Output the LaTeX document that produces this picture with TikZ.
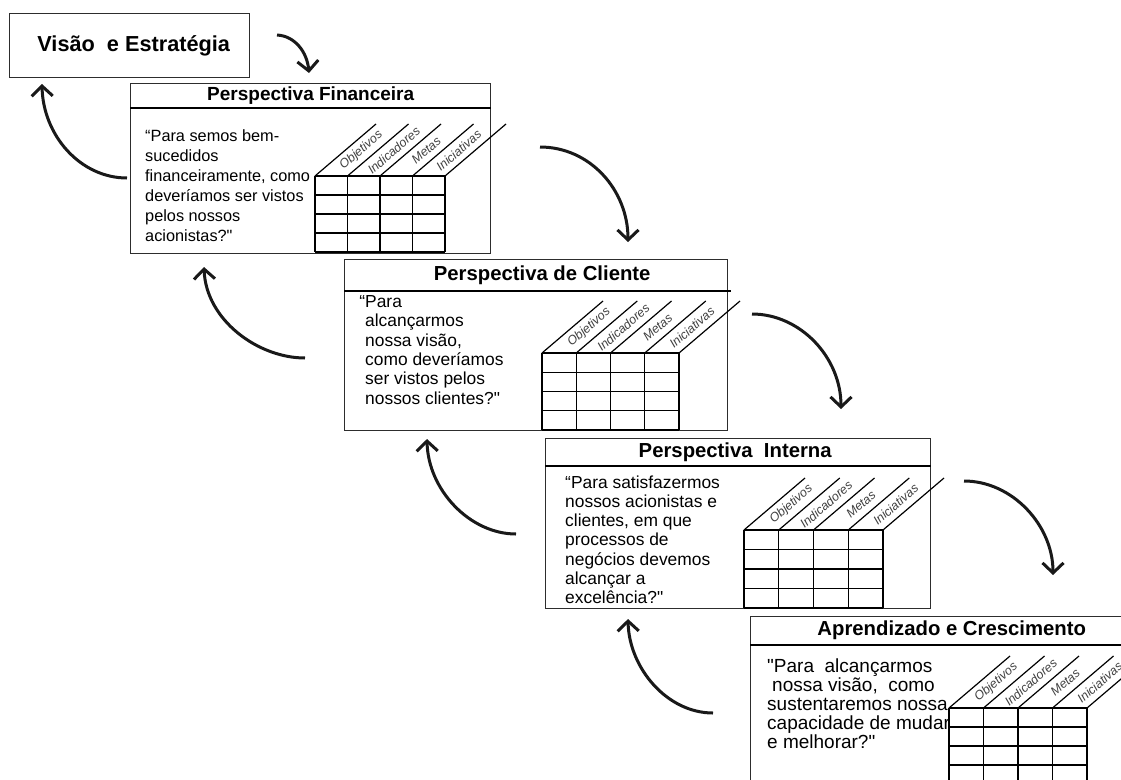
\documentclass[tikz,border=0pt]{standalone}
\usepackage{fontspec}
\setmainfont{Liberation Sans}[Ligatures=TeXOff]
\usetikzlibrary{arrows.meta,positioning}
\definecolor{Contorno}{RGB}{45,45,45}

% grade de objetivos/indicadores/metas/iniciativas
% #1,#2: canto superior esquerdo; #3: largura da coluna; #4: altura da linha
\newcommand{\grade}[4]{%
  \foreach \i in {0,...,4} {
    \draw[gradelinha] (#1+\i*#3,#2) -- (#1+\i*#3,#2+4*#4);
    \draw[gradelinha] (#1+\i*#3,#2) -- ++(61,-52);
  }
  \foreach \j in {0,...,4}
    \draw[gradelinha] (#1,#2+\j*#4) -- (#1+4*#3,#2+\j*#4);
  \foreach \lab [count=\i from 0] in {Objetivos,Indicadores,Metas,Iniciativas}
    \node[rotulo] at (#1+\i*#3+0.5*#3+30,#2-25.6) {\lab};
}

\begin{document}
\begin{tikzpicture}[x=1pt,y=-1pt,
    caixa/.style={rectangle,draw=Contorno,line width=1.4pt,inner sep=0pt,anchor=north west},
    titulo/.style={font=\bfseries\fontsize{#1}{#1}\selectfont,inner sep=0pt},
    divisoria/.style={line width=2.4pt},
    texto/.style 2 args={align=left,anchor=north west,inner sep=0pt,font=\fontsize{#1}{#2}\selectfont},
    gradelinha/.style={line width=1.2pt},
    rotulo/.style={font=\itshape\fontsize{12.5}{12.5}\selectfont,rotate=41,inner sep=0pt,text=black!75},
    seta/.style={line width=3pt,draw=black!90,-{Straight Barb[length=10pt,width=21pt]}}]
    \useasboundingbox (0,0) rectangle (1121,779);
    \clip (0,0) rectangle (1121,779);

    % visao
    \node[caixa,minimum width=240pt,minimum height=64pt] (visao) at (9,13) {};
    \node[font=\bfseries\fontsize{21.7}{24}\selectfont] (visaoT) at ([xshift=4pt]visao.center) {Visão~ e Estratégia};

    % financeira
    \node[caixa,minimum width=360pt,minimum height=170pt] (fin) at (130,83) {};
    \draw[divisoria] ([yshift=-25pt]fin.north west) -- ([yshift=-25pt]fin.north east);
    \node[titulo=19] (finT) at ([yshift=-12.5pt]fin.north) {Perspectiva Financeira};
    \node[texto={16.3}{20}] (finTx) at (145,129) {“Para semos bem-\\sucedidos\\financeiramente, como\\deveríamos ser vistos\\pelos nossos\\acionistas?"};
    \grade{315}{176}{32.5}{19}

    % cliente
    \node[caixa,minimum width=383pt,minimum height=171pt] (cli) at (344,259) {};
    \draw[divisoria] ([yshift=-32pt]cli.north west) -- ([yshift=-32pt,xshift=3pt]cli.north east);
    \node[titulo=20.3] (cliT) at ([yshift=-16pt,xshift=6pt]cli.north) {Perspectiva de Cliente};
    \node[texto={17.4}{19.3}] (cliTx) at (365,295.5) {\llap{“}Para\\alcançarmos\\nossa visão,\\como deveríamos\\ser vistos pelos\\nossos clientes?"};
    \grade{542}{353}{34.25}{19.25}

    % interna
    \node[caixa,minimum width=385pt,minimum height=170pt] (int) at (545,438) {};
    \draw[divisoria] ([yshift=-28pt]int.north west) -- ([yshift=-28pt]int.north east);
    \node[titulo=20.3] (intT) at ([yshift=-14pt,xshift=-3pt]int.north) {Perspectiva~ Interna};
    \node[texto={17.4}{19.2}] (intTx) at (565,475.5) {“Para satisfazermos\\nossos acionistas e\\clientes, em que\\processos de\\negócios devemos\\alcançar a\\excelência?"};
    \grade{744}{530}{34.75}{19.5}

    % aprendizado
    \node[caixa,minimum width=402pt,minimum height=200pt] (apr) at (750,616) {};
    \draw[divisoria] ([yshift=-29pt]apr.north west) -- ([yshift=-29pt]apr.north east);
    \node[titulo=20.3] (aprT) at ([yshift=-14.5pt]apr.north) {Aprendizado e Crescimento};
    \node[texto={19}{19}] (aprTx) at (767,658.3) {"Para~ alcançarmos\\\hspace*{5pt}nossa visão,~ como\\sustentaremos nossa\\capacidade de mudar\\e melhorar?"};
    \grade{949}{708}{34.5}{19}

    % setas
    \coordinate (a1) at (277,35);  \coordinate (a2) at (309,73);
    \coordinate (b1) at (127,178); \coordinate (b2) at (42,84);
    \coordinate (c1) at (540,147); \coordinate (c2) at (628,242);
    \coordinate (d1) at (305,358); \coordinate (d2) at (204,267);
    \coordinate (e1) at (752,314); \coordinate (e2) at (841,409);
    \coordinate (f1) at (516,534); \coordinate (f2) at (427,439);
    \coordinate (g1) at (964,481); \coordinate (g2) at (1053,575);
    \coordinate (h1) at (713,713); \coordinate (h2) at (628,619);
    \draw[seta] (a1) .. controls (295,36) and (307,52) .. (a2);
    \draw[seta] (b1) .. controls (80,178) and (43,135) .. (b2);
    \draw[seta] (c1) .. controls (590,147) and (628,190) .. (c2);
    \draw[seta] (d1) .. controls (258,358) and (206,320) .. (d2);
    \draw[seta] (e1) .. controls (800,314) and (841,357) .. (e2);
    \draw[seta] (f1) .. controls (470,534) and (428,490) .. (f2);
    \draw[seta] (g1) .. controls (1012,481) and (1053,525) .. (g2);
    \draw[seta] (h1) .. controls (667,713) and (629,668) .. (h2);
\end{tikzpicture}
\end{document}
